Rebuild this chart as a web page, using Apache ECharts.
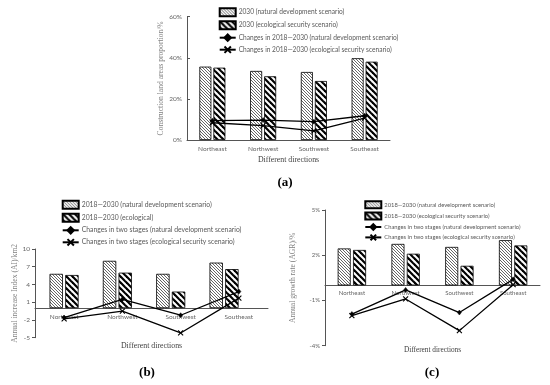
<!DOCTYPE html>
<html><head><meta charset="utf-8">
<script src="https://cdn.jsdelivr.net/npm/echarts@6/dist/echarts.min.js"></script>
<style>html,body{margin:0;padding:0;background:#fff}#c{width:550px;height:385px}</style>
</head><body><div id="c"></div>
<script>
const categories = ['Northeast', 'Northwest', 'Southwest', 'Southeast'];
// (a)
const a_nat2030 = [35.7, 33.6, 33.1, 39.8];
const a_eco2030 = [35.2, 31.0, 28.7, 38.1];
const a_natChange = [9.4, 9.7, 8.9, 11.8];
const a_ecoChange = [8.4, 7.0, 4.4, 10.6];
// (b)
const b_nat = [5.8, 8.0, 5.8, 7.7];
const b_eco = [5.6, 6.0, 2.8, 6.6];
const b_natChange = [-1.6, 1.5, -1.2, 2.8];
const b_ecoChange = [-1.8, -0.5, -4.2, 1.7];
// (c)
const c_nat = [2.45, 2.75, 2.55, 3.0];
const c_eco = [2.35, 2.1, 1.3, 2.65];
const c_natChange = [-1.9, -0.3, -1.8, 0.4];
const c_ecoChange = [-2.0, -0.9, -3.0, 0.05];

const N_A1 = '2030 (natural development scenario)';
const N_A2 = '2030 (ecological security scenario)';
const N_A3 = 'Changes in 2018\u20142030 (natural development scenario)';
const N_A4 = 'Changes in 2018\u20142030 (ecological security scenario)';
const N_B1 = '2018\u20142030 (natural development scenario)';
const N_B2 = '2018\u20142030 (ecological)';
const N_B3 = 'Changes in two stages (natural development scenario)';
const N_B4 = 'Changes in two stages (ecological security scenario)';
const N_C2 = '2018\u20142030 (ecological security scenario)';

function hatch(p, lw, color) {
  const cv = document.createElement('canvas');
  cv.width = p; cv.height = p;
  const ctx = cv.getContext('2d');
  ctx.fillStyle = '#fff'; ctx.fillRect(0, 0, p, p);
  ctx.strokeStyle = color; ctx.lineWidth = lw;
  for (let k = -1; k <= 1; k++) {
    ctx.beginPath();
    ctx.moveTo(k * p - 1, -1);
    ctx.lineTo(k * p + p + 1, p + 1);
    ctx.stroke();
  }
  return cv;
}
const fine = { image: hatch(3, 0.9, '#555'), repeat: 'repeat' };
const bold = { image: hatch(6, 2.2, '#000'), repeat: 'repeat' };

const CROSS = 'path://M0,0L10,10M10,0L0,10';
const AX = '#555';
const LBL = '#666';
const SANS = 'Lato';
const SERIF = 'Liberation Serif';

function barS(name, data, pat, xi, yi, bw, gap) {
  return { type: 'bar', name, data, xAxisIndex: xi, yAxisIndex: yi, barWidth: bw, barGap: gap,
    itemStyle: { color: pat, borderColor: '#000', borderWidth: 0.8 }, z: 2, animation: false };
}
function lineS(name, data, xi, yi, cross) {
  return { type: 'line', name, data, xAxisIndex: xi, yAxisIndex: yi,
    symbol: cross ? CROSS : 'diamond', symbolSize: cross ? 5 : [4, 5], showSymbol: true,
    lineStyle: { color: '#000', width: 1.3 },
    itemStyle: { color: '#000', borderColor: '#000', borderWidth: cross ? 1.1 : 0.5 },
    z: 5, animation: false };
}
function xAx(gi, gap, nameGap, fs) {
  return { type: 'category', gridIndex: gi, data: categories,
    axisLine: { onZero: false, lineStyle: { color: AX, width: 1 } },
    axisTick: { inside: true, length: 3, lineStyle: { color: AX } },
    axisLabel: { color: LBL, fontSize: fs, fontFamily: SANS, margin: gap },
    name: 'Different directions', nameLocation: 'middle', nameGap: nameGap,
    nameTextStyle: { color: '#404040', fontFamily: SERIF, fontSize: fs + 1.3 } };
}
function yAx(gi, min, max, itv, fmt, name, nameGap, fs, inside) {
  return { type: 'value', gridIndex: gi, min, max, interval: itv,
    axisLine: { show: true, lineStyle: { color: AX } },
    axisTick: { show: true, inside: inside, length: 3, lineStyle: { color: AX } },
    splitLine: { show: false },
    axisLabel: { color: LBL, fontSize: fs, fontFamily: SANS, formatter: fmt, margin: 5 },
    name, nameLocation: 'middle', nameGap, nameRotate: 90,
    nameTextStyle: { color: '#808080', fontFamily: SERIF, fontSize: 7.6 } };
}
function leg(left, top, data, fs, ih, gap) {
  return { orient: 'vertical', left, top, padding: 0, itemWidth: 16, itemHeight: ih, itemGap: gap,
    selectedMode: false,
    textStyle: { fontSize: fs, color: '#595959', fontFamily: SANS, lineHeight: ih + 1, padding: [0, 0, 0, -2] },
    data };
}

const chart = echarts.init(document.getElementById('c'), null, { renderer: 'canvas' });
chart.setOption({
  animation: false,
  backgroundColor: '#fff',
  grid: [
    { left: 187, top: 16.7, width: 203, height: 123.3 },
    { left: 35, top: 249, width: 233, height: 88.7 },
    { left: 37.4, top: 249, width: 213.3, height: 88.7 },
    { left: 325, top: 210, width: 215, height: 135.7 },
    { left: 35, top: 249, width: 233, height: 59.1 },
    { left: 325, top: 210, width: 215, height: 75.4 }
  ],
  xAxis: [
    xAx(0, 5, 16, 6.5),
    { type: 'category', gridIndex: 1, data: categories, show: false },
    { type: 'category', gridIndex: 2, data: categories, show: false },
    { type: 'category', gridIndex: 3, data: categories, show: false },
    xAx(4, 5, 34, 6.5),
    xAx(5, 5, 61, 6)
  ],
  yAxis: [
    yAx(0, 0, 60, 20, '{value}%', 'Construction land areas proportion/%', 20, 6.5, true),
    yAx(1, -5, 10, 3, '{value}', 'Annual increase Index (AI)/km2', 14, 6.5, false),
    { type: 'value', gridIndex: 2, min: -5, max: 10, show: false },
    yAx(3, -4, 5, 3, '{value}%', 'Annual growth rate (AGR)/%', 28, 6, false),
    { type: 'value', gridIndex: 4, min: 0, max: 1, show: false },
    { type: 'value', gridIndex: 5, min: 0, max: 1, show: false }
  ],
  legend: [
    leg(218.7, 7.2, [{ name: N_A1, icon: 'rect' }, { name: N_A2, icon: 'rect' }, N_A3, N_A4], 6.6, 8, 3),
    leg(61.7, 199.8, [{ name: N_B1, icon: 'rect' }, { name: N_B2, icon: 'rect' }, N_B3, N_B4], 6.8, 8, 3),
    leg(364.3, 200.2, [{ name: N_B1, icon: 'rect' }, { name: N_C2, icon: 'rect' }, N_B3, N_B4], 5.8, 7, 2.4)
  ],
  series: [
    barS(N_A1, a_nat2030, fine, 0, 0, 12, '17%'),
    barS(N_A2, a_eco2030, bold, 0, 0, 12, '17%'),
    lineS(N_A3, a_natChange, 0, 0, false),
    lineS(N_A4, a_ecoChange, 0, 0, true),
    barS(N_B1, b_nat, fine, 2, 2, 13.4, '17%'),
    barS(N_B2, b_eco, bold, 2, 2, 13.4, '17%'),
    lineS(N_B3, b_natChange, 1, 1, false),
    lineS(N_B4, b_ecoChange, 1, 1, true),
    barS(N_B1, c_nat, fine, 3, 3, 13, '18%'),
    barS(N_C2, c_eco, bold, 3, 3, 13, '18%'),
    lineS(N_B3, c_natChange, 3, 3, false),
    lineS(N_B4, c_ecoChange, 3, 3, true)
  ],
  graphic: [
    { type: 'text', x: 285, y: 183, style: { text: '(a)', font: 'bold 13px "Liberation Serif"', fill: '#000', align: 'center', verticalAlign: 'middle' } },
    { type: 'text', x: 147, y: 373, style: { text: '(b)', font: 'bold 13px "Liberation Serif"', fill: '#000', align: 'center', verticalAlign: 'middle' } },
    { type: 'text', x: 432, y: 373, style: { text: '(c)', font: 'bold 13px "Liberation Serif"', fill: '#000', align: 'center', verticalAlign: 'middle' } }
  ]
});
</script></body></html>
